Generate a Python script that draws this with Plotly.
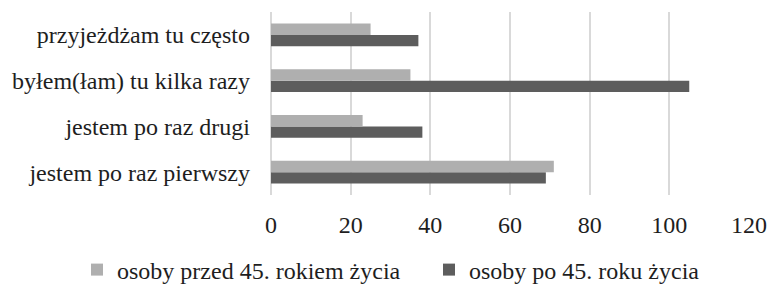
import plotly.graph_objects as go

categories = ["jestem po raz pierwszy", "jestem po raz drugi", "byłem(łam) tu kilka razy", "przyjeżdżam tu często"]
series_young = [71, 23, 35, 25]
series_old = [69, 38, 105, 37]
name_young = "osoby przed 45. rokiem życia"
name_old = "osoby po 45. roku życia"
x_ticks = [0, 20, 40, 60, 80, 100, 120]

FONT = "Times New Roman, Liberation Serif, serif"

fig = go.Figure()
fig.add_trace(go.Bar(y=categories, x=series_old, orientation="h", name=name_old,
                     marker=dict(color="#5d5d5d", line=dict(width=0))))
fig.add_trace(go.Bar(y=categories, x=series_young, orientation="h", name=name_young,
                     marker=dict(color="#afafaf", line=dict(width=0))))

W, H = 767, 284
L, R, T, B = 271, 18, 12, 89
pw, ph = W - L - R, H - T - B
fig.update_layout(
    width=W, height=H,
    margin=dict(l=L, r=R, t=T, b=B, autoexpand=False),
    paper_bgcolor="white", plot_bgcolor="white",
    barmode="group", bargap=0.5, bargroupgap=0,
    font=dict(family=FONT, size=24, color="#1e1e1e"),
    legend=dict(orientation="h", traceorder="reversed", xref="paper", yref="paper",
                x=(77 - L) / pw, xanchor="left", y=(T + ph - 270) / ph, yanchor="middle",
                font=dict(family=FONT, size=24), itemwidth=30, entrywidth=307, tracegroupgap=0,
                bgcolor="rgba(0,0,0,0)"),
    showlegend=True,
)
fig.update_xaxes(range=[0, 120], tickvals=x_ticks, showgrid=True, gridcolor="#d9d9d9", gridwidth=1.5,
                 zeroline=True, zerolinecolor="#d9d9d9", zerolinewidth=1.5, showline=False,
                 ticks="", ticklabelstandoff=13, fixedrange=True, automargin=False)
fig.update_yaxes(showgrid=False, showline=False, ticks="", ticklabelstandoff=20, fixedrange=True,
                 automargin=False)

fig.write_html("out.html", config={"displayModeBar": False},
               post_script="document.body.style.margin='0';document.body.style.overflow='hidden';")
